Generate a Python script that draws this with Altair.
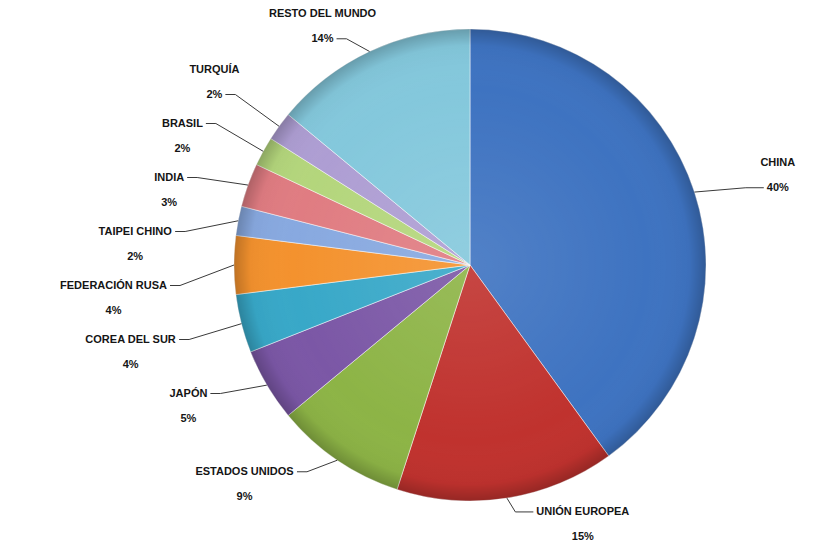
import math
import altair as alt
import pandas as pd

# ---- data ----
names = ["China", "Unión Europea", "Estados Unidos", "Japón", "Corea del Sur",
         "Federación Rusa", "Taipei Chino", "India", "Brasil", "Turquía",
         "Resto del mundo"]
values = [40, 15, 9, 5, 4, 4, 2, 3, 2, 2, 14]
colors = ["#3E73C1", "#C0322E", "#8DB446", "#7B57A6", "#38A8C8", "#F4922E",
          "#88A9E0", "#E07C82", "#B4D67C", "#AE9ED3", "#84C8DC"]

# ---- layout constants ----
CX, CY, R = 470, 265, 236
RLX, RLY = 290, 250
FS = 11
GAP = 54

WID = {'A': .722, 'B': .722, 'C': .722, 'D': .722, 'E': .667, 'F': .611, 'G': .778,
       'H': .722, 'I': .278, 'J': .556, 'K': .722, 'L': .611, 'M': .833, 'N': .722,
       'O': .778, 'P': .667, 'Q': .778, 'R': .722, 'S': .667, 'T': .611, 'U': .722,
       'V': .667, 'W': .944, 'X': .667, 'Y': .667, 'Z': .611, ' ': .278, '%': .889,
       'Í': .278, 'Ó': .778, 'Á': .722, 'É': .667}


def tw(s):
    return sum(WID.get(c, .556) for c in s) * FS


total = sum(values)
pie = pd.DataFrame({"name": names, "value": values, "order": list(range(len(names)))})

rows = []
cum = 0
for n, v in zip(names, values):
    a = (cum + v / 2) / total * 2 * math.pi
    cum += v
    s, c = math.sin(a), math.cos(a)
    side = "R" if s > 0 else "L"
    yi = CY - RLY * c
    if side == "R":
        pmode = yi < CY
    else:
        pmode = yi < CY - 130
    rows.append(dict(name=n, pct=f"{v}%", ex=CX + R * s, ey=CY - R * c,
                     elx=CX + RLX * s, yi=yi, side=side, pmode=pmode,
                     top=yi - 25 if pmode else yi))

left = sorted([r for r in rows if r["side"] == "L"], key=lambda r: r["top"])
for _ in range(600):
    for a_, b_ in zip(left, left[1:]):
        gap = b_["top"] - a_["top"]
        if gap < GAP:
            d = (GAP - gap) / 2
            a_["top"] -= d
            b_["top"] += d
    if left[0]["top"] < 12:
        sh = 12 - left[0]["top"]
        for r in left:
            r["top"] += sh * 0.5

seg, txt = [], []
for r in rows:
    ay = r["top"] + (25 if r["pmode"] else 0)
    ref_w = tw(r["pct"]) if r["pmode"] else tw(r["name"].upper())
    if r["side"] == "L":
        xe = r["elx"] - 10
        cxt = xe - 3 - ref_w / 2
    else:
        xe = r["elx"] + 18
        cxt = xe + 3 + ref_w / 2
    seg.append(dict(x=r["ex"], y=r["ey"], x2=r["elx"], y2=ay))
    seg.append(dict(x=r["elx"], y=ay, x2=xe, y2=ay))
    txt.append(dict(x=cxt, y=r["top"], t=r["name"].upper()))
    txt.append(dict(x=cxt, y=r["top"] + 25, t=r["pct"]))

seg = pd.DataFrame(seg)
txt = pd.DataFrame(txt)

arcs = alt.Chart(pie).mark_arc(outerRadius=R, stroke="#ffffff", strokeWidth=0.7,
                               strokeOpacity=0.7).encode(
    theta=alt.Theta("value:Q", stack=True),
    order=alt.Order("order:Q"),
    color=alt.Color("name:N", scale=alt.Scale(domain=names, range=colors), legend=None),
    x=alt.value(CX), y=alt.value(CY),
)

shade = alt.Chart(pd.DataFrame({"k": [1]})).mark_arc(
    outerRadius=R,
    fill={"gradient": "radial", "x1": 0.5, "y1": 0.5, "r1": 0, "x2": 0.5, "y2": 0.5, "r2": 0.5,
          "stops": [{"offset": 0, "color": "rgba(255,255,255,0.10)"},
                    {"offset": 0.75, "color": "rgba(255,255,255,0)"},
                    {"offset": 0.93, "color": "rgba(0,0,0,0.03)"},
                    {"offset": 1, "color": "rgba(0,0,0,0.22)"}]},
).encode(theta=alt.value(0), theta2=alt.value(2 * math.pi), x=alt.value(CX), y=alt.value(CY))

lines = alt.Chart(seg).mark_rule(color="#3a3a3a", strokeWidth=1).encode(
    x=alt.X("x:Q", scale=None), y=alt.Y("y:Q", scale=None),
    x2="x2:Q", y2="y2:Q")

labels = alt.Chart(txt).mark_text(font="Liberation Sans", fontSize=FS, fontWeight="bold",
                                  color="#151515", align="center", baseline="middle").encode(
    x=alt.X("x:Q", scale=None), y=alt.Y("y:Q", scale=None), text="t:N")

chart = alt.layer(arcs, shade, lines, labels).properties(
    width=825, height=555, autosize=alt.AutoSizeParams(type="none"), padding=0,
    background="#ffffff"
).configure_view(stroke=None)

chart.save("out.html", embed_options={"renderer": "svg", "actions": False})
